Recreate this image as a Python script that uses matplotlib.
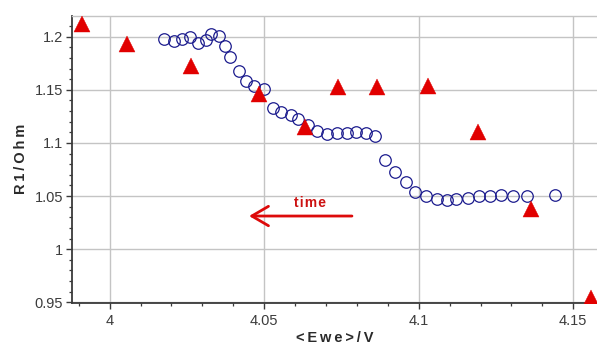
import matplotlib
matplotlib.use("Agg")
import matplotlib.pyplot as plt
from matplotlib.ticker import FixedLocator, FixedFormatter, MultipleLocator

# ---- data ----
circle_x = [4.0177, 4.0207, 4.0234, 4.0261, 4.0286, 4.0311, 4.0327, 4.0353, 4.0373, 4.0389,
            4.0417, 4.0441, 4.0467, 4.0499, 4.0528, 4.0554, 4.0586, 4.0610, 4.0643, 4.0672,
            4.0702, 4.0735, 4.0767, 4.0797, 4.0828, 4.0859, 4.0892, 4.0923, 4.0958, 4.0989,
            4.1024, 4.1058, 4.1090, 4.1122, 4.1158, 4.1195, 4.1230, 4.1265, 4.1305, 4.1350,
            4.1441]
circle_y = [1.1978, 1.1957, 1.1981, 1.1997, 1.1938, 1.1966, 1.2025, 1.2009, 1.1910, 1.1812,
            1.1680, 1.1580, 1.1536, 1.1505, 1.1326, 1.1288, 1.1263, 1.1222, 1.1169, 1.1115,
            1.1084, 1.1096, 1.1091, 1.1100, 1.1091, 1.1065, 1.0839, 1.0729, 1.0629, 1.0541,
            1.0496, 1.0468, 1.0463, 1.0472, 1.0486, 1.0501, 1.0501, 1.0510, 1.0505, 1.0501,
            1.0510]

tri_x = [3.9910, 4.0056, 4.0262, 4.0482, 4.0632, 4.0738, 4.0866, 4.1029, 4.1193, 4.1363, 4.1557]
tri_y = [1.2120, 1.1931, 1.1727, 1.1458, 1.1153, 1.1524, 1.1524, 1.1536, 1.1106, 1.0378, 0.9537]

x_ticks = [4.0, 4.05, 4.1, 4.15]
x_tick_labels = ["4", "4.05", "4.1", "4.15"]
y_ticks = [0.95, 1.0, 1.05, 1.1, 1.15, 1.2]
y_tick_labels = ["0.95", "1", "1.05", "1.1", "1.15", "1.2"]

arrow_start = (4.0784, 1.0312)
arrow_end = (4.0451, 1.0312)
arrow_text = "time"
arrow_text_pos = (4.0647, 1.0432)

x_label = "<Ewe>/V"
y_label = "R1/Ohm"

# ---- figure ----
W, H = 597, 347
fig = plt.figure(figsize=(W / 100, H / 100), dpi=100)
ax = fig.add_axes([72 / W, 1 - 302.5 / H, (597 - 72) / W, (302.5 - 16) / H])

ax.set_xlim(3.9878, 4.1577)
ax.set_ylim(0.9498, 1.2195)

grid_c = "#c4c4c4"
ax.xaxis.set_major_locator(FixedLocator(x_ticks))
ax.xaxis.set_major_formatter(FixedFormatter(x_tick_labels))
ax.yaxis.set_major_locator(FixedLocator(y_ticks))
ax.yaxis.set_major_formatter(FixedFormatter(y_tick_labels))
ax.xaxis.set_minor_locator(MultipleLocator(0.01))
ax.yaxis.set_minor_locator(MultipleLocator(0.01))
ax.grid(True, which="major", color=grid_c, lw=1.0)
ax.set_axisbelow(True)

for s in ["left", "bottom"]:
    ax.spines[s].set_color("#3a3a3a")
    ax.spines[s].set_linewidth(1.3)
ax.spines["right"].set_visible(False)
ax.spines["top"].set_color(grid_c)
ax.spines["top"].set_linewidth(1.0)

ax.tick_params(which="major", direction="out", length=4.5, width=1.0, color="#3a3a3a",
               labelcolor="#3c3c3c", labelsize=10.5)
ax.tick_params(which="minor", direction="out", length=2.2, width=0.9, color="#3a3a3a")
ax.tick_params(axis="y", which="major", pad=2)
ax.tick_params(axis="x", which="major", pad=4)
for lab in ax.get_xticklabels() + ax.get_yticklabels():
    lab.set_fontfamily(["Liberation Sans", "DejaVu Sans"])

# markers
ax.plot(circle_x, circle_y, linestyle="none", marker="o", markersize=8.3,
        markerfacecolor="none", markeredgecolor="#1c1c8e", markeredgewidth=0.9, zorder=3)
ax.plot(tri_x, tri_y, linestyle="none", marker="^", markersize=11.5,
        markerfacecolor="#e10000", markeredgecolor="#e10000", markeredgewidth=0.3, zorder=4)

# time arrow
red = "#dd0a0a"
ax.annotate("", xy=arrow_end, xytext=arrow_start,
            arrowprops=dict(arrowstyle="->,head_length=1.2,head_width=0.7", color=red,
                            lw=2.0, shrinkA=0, shrinkB=0, mutation_scale=10))
ax.text(arrow_text_pos[0], arrow_text_pos[1], "\u200a".join(arrow_text), color="#cc1111",
        fontsize=10, fontweight="bold", ha="center", va="center",
        family=["Liberation Sans", "DejaVu Sans"])

# axis labels (letter spaced)
sp = "\u2009"
ax.set_xlabel(sp.join(x_label), fontsize=10.5, fontweight="bold", color="#2a2a2a",
              family=["Liberation Sans", "DejaVu Sans"], labelpad=2)
ax.set_ylabel(sp.join(y_label), fontsize=10.5, fontweight="bold", color="#2a2a2a",
              family=["Liberation Sans", "DejaVu Sans"], labelpad=5)

fig.savefig("out.png", dpi=100)
